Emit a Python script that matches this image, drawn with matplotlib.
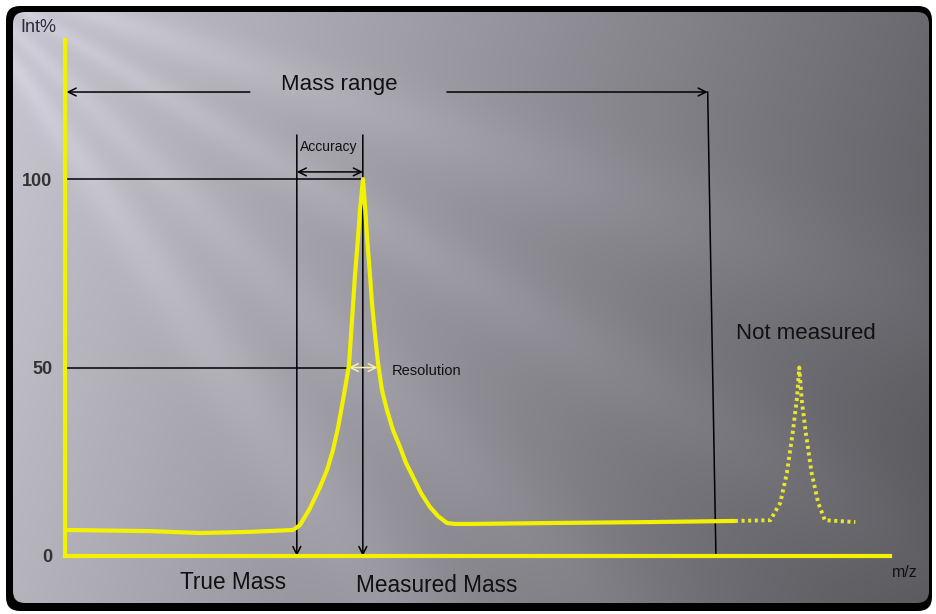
import numpy as np
import matplotlib
matplotlib.use("Agg")
from matplotlib import pyplot as plt
from matplotlib.patches import FancyBboxPatch

################ Data ########################
# main measured peak (m/z in arbitrary units, intensity in %)
mz_main = [0.2, 10.3, 16.4, 22.4, 27.64, 28.48, 29.70, 30.91, 31.76, 32.48,
           33.09, 33.70, 34.06, 34.42, 34.79, 35.15, 35.52, 35.76, 36.12,
           36.36, 36.61, 36.97, 37.21, 37.58, 37.94, 38.42, 39.03, 39.76,
           40.61, 41.33, 42.18, 43.15, 44.24, 45.21, 46.30, 47.27, 49.1,
           58.8, 70.9, 81.2]
int_main = [6.9, 6.6, 6.1, 6.4, 6.9, 8.2, 12.7, 18.3, 22.8, 28.1,
            34.0, 41.4, 45.9, 50.7, 62.6, 74.5, 84.6, 91.8, 100.0,
            93.1, 84.6, 74.5, 67.1, 58.6, 51.2, 44.0, 38.7, 33.4,
            28.9, 24.7, 21.0, 16.7, 13.0, 10.6, 8.75, 8.5, 8.5,
            8.75, 9.0, 9.3]

# peak outside the mass range (dotted)
mz_ghost = [81.2, 85.5, 86.7, 87.5, 88.2, 88.7, 89.0, 89.3, 89.8, 90.5,
            91.3, 92.1, 95.8]
int_ghost = [9.3, 9.5, 14.1, 22.0, 32.6, 41.4, 50.0, 41.4, 32.6, 22.0,
             14.1, 9.5, 9.0]

y_ticks = [0, 50, 100]
true_mass = 28.1
measured_mass = 36.1
half_left = 34.4
half_right = 37.9
range_start = 0.2
range_end_top = 77.9
range_end_bottom = 78.9
range_y = 123.1

W, H = 936, 614
fig = plt.figure(figsize=(W / 100, H / 100), dpi=100, facecolor="white")

################ Background ##################
bg = fig.add_axes([0, 0, 1, 1])
bg.set_xlim(0, W)
bg.set_ylim(H, 0)
bg.axis("off")

frame = FancyBboxPatch((6, 6), W - 10, H - 9, boxstyle="round,pad=0,rounding_size=14",
                       fc="black", ec="none")
bg.add_patch(frame)

xx, yy = np.meshgrid(np.arange(W), np.arange(H))
u, v = xx / W, yy / H
g = 0.80 - 0.38 * u - 0.08 * v
theta = np.degrees(np.arctan2(yy + 40, xx + 60))
fade = 1 - 0.4 * u
for ang, amp, wid in [(19, 0.05, 4), (31, 0.045, 3), (44, 0.04, 3.5), (55, 0.05, 4)]:
    g += amp * np.exp(-((theta - ang) / wid) ** 2) * fade
g = np.clip(g, 0, 1)
rgb = np.dstack([g * 0.99, g * 0.98, np.clip(g * 1.03, 0, 1)])
im = bg.imshow(rgb, extent=(0, W, H, 0), zorder=1)
inner = FancyBboxPatch((13, 12), 916, 591, boxstyle="round,pad=0,rounding_size=12",
                       fc="none", ec="none", transform=bg.transData)
bg.add_patch(inner)
im.set_clip_path(inner)

################ Chart #######################
ax = fig.add_axes([65 / W, 1 - 556 / H, (890 - 65) / W, (556 - 40) / H])
ax.patch.set_alpha(0)
ax.set_xlim(0, 100)
ax.set_ylim(0, 136.9)
for s in ["top", "right"]:
    ax.spines[s].set_visible(False)
for s in ["left", "bottom"]:
    ax.spines[s].set_color("#f2f200")
    ax.spines[s].set_linewidth(3)
ax.set_xticks([])
ax.set_yticks(y_ticks)
ax.set_yticklabels([str(t) for t in y_ticks], fontsize=13, fontweight="bold",
                   color="#333333", family="Liberation Sans")
ax.tick_params(axis="y", length=0, pad=9)

ax.plot(mz_main, int_main, color="#f2f200", lw=3, solid_joinstyle="round",
        solid_capstyle="round", zorder=3)
ax.plot(mz_ghost, int_ghost, color="#e6e630", lw=2.8, linestyle=(0, (0.8, 0.9)),
        zorder=3)

black = dict(color="black", lw=1.1, zorder=2)
ax.plot([0, measured_mass], [100, 100], **black)
ax.plot([0, half_left], [50, 50], **black)
ax.plot([range_end_top, range_end_bottom], [range_y, 0], **black)


def arrow(x0, y0, x1, y1, style="->", color="black"):
    ax.annotate("", xy=(x1, y1), xytext=(x0, y0), annotation_clip=False,
                arrowprops=dict(arrowstyle=style, color=color, lw=1.1,
                                shrinkA=0, shrinkB=0, mutation_scale=14),
                zorder=2)


arrow(true_mass, 111.7, true_mass, 0)
arrow(measured_mass, 111.7, measured_mass, 0)
arrow(true_mass, 101.9, measured_mass, 101.9, "<->")
arrow(22.4, range_y, range_start, range_y)
arrow(46.3, range_y, range_end_top, range_y)
arrow(half_left, 50, half_right, 50, "<->", color="#f4f0a8")

txt = dict(family="Liberation Sans", color="#111111", ha="center", va="center",
           clip_on=False)
ax.text(33.3, 125.2, "Mass range", fontsize=16, **txt)
ax.text(32.0, 108.5, "Accuracy", fontsize=10, **txt)
ax.text(39.6, 49.1, "Resolution", fontsize=10.5, family="Liberation Sans",
        color="#111111", ha="left", va="center")
ax.text(89.8, 58.9, "Not measured", fontsize=16, **txt)
ax.text(20.4, -6.9, "True Mass", fontsize=16.3, **txt)
ax.text(45.1, -7.7, "Measured Mass", fontsize=16.3, **txt)
ax.text(101.8, -4.5, "m/z", fontsize=11.5, **txt)
ax.text(-3.2, 140.3, "Int%", fontsize=13, family="Liberation Sans",
        color="#2a2a40", ha="center", va="center", clip_on=False)

plt.savefig("out.png", dpi=100, facecolor="white")
